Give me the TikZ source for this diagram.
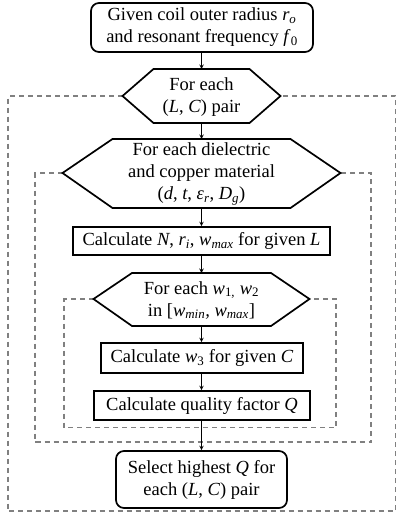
\documentclass[tikz,border=0pt]{standalone}
\usepackage{fontspec}
\setmainfont{Liberation Serif}

\tikzset{
  box/.style={draw,line width=1.7pt,inner sep=1pt,align=center},
  rbox/.style={box,rounded corners=8pt},
  hexline/.style={line width=1.7pt,line join=miter},
  loopline/.style={gray,line width=1.1pt,dash pattern=on 5pt off 4pt},
  flow/.style={->,line width=1pt}
}

\begin{document}
\begin{tikzpicture}[x=1pt,y=-1pt,font=\fontsize{18.5}{22}\selectfont,>=stealth]
\useasboundingbox (0,0) rectangle (397,517);
% hexagon corners
\coordinate (A1) at (122.5,96);
\coordinate (A2) at (153.5,69);
\coordinate (A3) at (249.5,69);
\coordinate (A4) at (280.5,96);
\coordinate (A5) at (249.5,123);
\coordinate (A6) at (153.5,123);
\coordinate (B1) at (62.5,173);
\coordinate (B2) at (112.5,139);
\coordinate (B3) at (290.5,139);
\coordinate (B4) at (340.5,173);
\coordinate (B5) at (290.5,208);
\coordinate (B6) at (112.5,208);
\coordinate (C1) at (93.5,299);
\coordinate (C2) at (132,273);
\coordinate (C3) at (271,273);
\coordinate (C4) at (309.5,299);
\coordinate (C5) at (271,326);
\coordinate (C6) at (132,326);
\coordinate (A0t) at (201.5,69);
\coordinate (A0b) at (201.5,123);
\coordinate (B0t) at (201.5,139);
\coordinate (B0b) at (201.5,208);
\coordinate (C0t) at (201.5,273);
\coordinate (C0b) at (201.5,326);

% loops
\draw[loopline] (A1)--(8,96)--(8,511)--(395.5,511)--(395.5,96)--(A4);
\draw[loopline] (B1)--(35,173)--(35,442)--(371,442)--(371,173)--(B4);
\draw[loopline] (C1)--(64,299)--(64,427.5)--(336,427.5)--(336,299)--(C4);

\draw[hexline] (A1)--(A2)--(A3)--(A4)--(A5)--(A6)--cycle;
\draw[hexline] (B1)--(B2)--(B3)--(B4)--(B5)--(B6)--cycle;
\draw[hexline] (C1)--(C2)--(C3)--(C4)--(C5)--(C6)--cycle;

\node[rbox,minimum width=222pt,minimum height=49pt] (given) at (202,27.5)
  {Given coil outer radius \textit{r\textsubscript{o}}\\and resonant frequency \textit{f}\textsubscript{0}};
\node[align=center] (eachLC) at (201.5,97) {For each\\(\textit{L}, \textit{C}) pair};
\node[align=center] (eachMat) at (201.5,174)
  {For each dielectric\\and copper material\\(\textit{d}, \textit{t}, \textit{ε\textsubscript{r}}, \textit{D\textsubscript{g}})};
\node[box,minimum width=257pt,minimum height=28pt] (calcN) at (201.5,241)
  {Calculate \textit{N}, \textit{r\textsubscript{i}}, \textit{w\textsubscript{max}} for given \textit{L}};
\node[align=center] (eachW) at (201.5,300)
  {For each \textit{w}\textsubscript{1,} \textit{w}\textsubscript{2}\\in [\textit{w\textsubscript{min},} \textit{w\textsubscript{max}}]};
\node[box,minimum width=202pt,minimum height=30pt] (calcW) at (202,358)
  {Calculate \textit{w}\textsubscript{3} for given \textit{C}};
\node[box,minimum width=216pt,minimum height=29pt] (calcQ) at (202,405.5)
  {Calculate quality factor \textit{Q}};
\node[rbox,minimum width=171pt,minimum height=57pt] (best) at (201.5,479.5)
  {Select highest \textit{Q} for\\each (\textit{L}, \textit{C}) pair};

\draw[flow] (given.south -| A0t) -- (A0t);
\draw[flow] (A0b) -- (B0t);
\draw[flow] (B0b) -- (calcN.north -| B0b);
\draw[flow] (calcN.south -| C0t) -- (C0t);
\draw[flow] (C0b) -- (calcW.north -| C0b);
\draw[flow] (calcW.south -| C0b) -- (calcQ.north -| C0b);
\draw[flow] (calcQ.south -| C0b) -- (best.north -| C0b);
\end{tikzpicture}
\end{document}
